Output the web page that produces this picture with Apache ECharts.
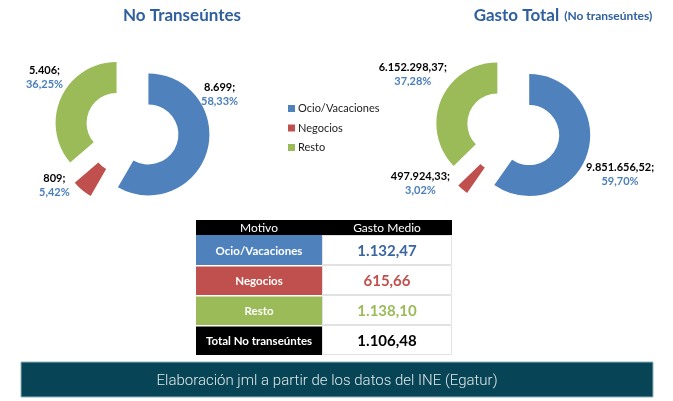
<!DOCTYPE html>
<html><head><meta charset="utf-8">
<script src="https://cdn.jsdelivr.net/npm/echarts@6/dist/echarts.min.js"></script>
<style>html,body{margin:0;padding:0;background:#fff}#c{width:673px;height:401px}</style>
</head><body><div id="c"></div>
<script>
const categories = ['Ocio/Vacaciones', 'Negocios', 'Resto'];
const visitantes = [8699, 809, 5406];
const gastoTotal = [9851656.52, 497924.33, 6152298.37];
const gastoMedio = [1132.47, 615.66, 1138.10];
const gastoMedioTotal = 1106.48;
const totalLabel = 'Total No transeúntes';
const colors = ['#4f81bd', '#c0504d', '#9bbb59'];

function fmt(v, dec) {
  const s = v.toFixed(dec);
  let [i, d] = s.split('.');
  i = i.replace(/\B(?=(\d{3})+(?!\d))/g, '.');
  return d ? i + ',' + d : i;
}

const FONT = 'Lato';
const chart = echarts.init(document.getElementById('c'), null, {renderer: 'canvas'});

// label nudges (pixels) per series / slice, relative to ECharts' outside placement
const labelShift = [
  [[-21, -58], [-1, -12], [16, -16]],
  [[-16, 18], [-1, -14], [20, -21]]
];

function pieSeries(vals, center, dec, si) {
  return {
    type: 'pie',
    center: center,
    radius: [30, 61],
    startAngle: 90,
    clockwise: true,
    selectedMode: 'multiple',
    selectedOffset: 17,
    avoidLabelOverlap: false,
    emphasis: {disabled: true},
    label: {
      show: true,
      position: 'outside',
      fontFamily: FONT,
      formatter: p => '{v|' + fmt(p.value, dec) + ';}\n{p|' + p.percent.toFixed(2).replace('.', ',') + '%}',
      rich: {
        v: {fontSize: 11, fontWeight: 'bold', color: '#000', fontFamily: FONT, lineHeight: 14, align: 'center'},
        p: {fontSize: 11, fontWeight: 'bold', color: '#4a7ebb', fontFamily: FONT, lineHeight: 14, align: 'center'}
      }
    },
    labelLine: {show: false, length: 10, length2: 0},
    labelLayout: p => ({dx: labelShift[si][p.dataIndex][0], dy: labelShift[si][p.dataIndex][1]}),
    data: categories.map((n, i) => ({name: n, value: vals[i], selected: true, itemStyle: {color: colors[i]}}))
  };
}

const graphics = [];
// table
const tx = 196, tw1 = 126, tw2 = 130, hy = 220, hh = 15, rh = 30;
graphics.push({type: 'rect', shape: {x: tx, y: hy, width: tw1 + tw2, height: hh}, style: {fill: '#000'}});
graphics.push({type: 'text', style: {text: 'Motivo', x: tx + tw1 / 2, y: hy + hh / 2 + 0.5, align: 'center', verticalAlign: 'middle', fill: '#fff', font: '12px ' + FONT}});
graphics.push({type: 'text', style: {text: 'Gasto Medio', x: tx + tw1 + tw2 / 2, y: hy + hh / 2 + 0.5, align: 'center', verticalAlign: 'middle', fill: '#fff', font: '12px ' + FONT}});
const rowNames = categories.concat([totalLabel]);
const rowVals = gastoMedio.concat([gastoMedioTotal]);
const rowColors = colors.concat(['#000']);
rowNames.forEach((n, i) => {
  const y = hy + hh + i * rh;
  graphics.push({type: 'rect', shape: {x: tx, y: y + (i ? 1.5 : 0), width: tw1, height: rh - (i ? 1.5 : 0)}, style: {fill: rowColors[i]}});
  graphics.push({type: 'rect', shape: {x: tx + tw1 + 0.5, y: y + 0.5, width: tw2 - 1, height: rh - 1}, style: {fill: '#fff', stroke: '#e2e2e2', lineWidth: 1}});
  graphics.push({type: 'text', style: {text: n, x: tx + tw1 / 2, y: y + rh / 2 + 1, align: 'center', verticalAlign: 'middle', fill: '#fff', font: 'bold 11.5px ' + FONT}});
  graphics.push({type: 'text', style: {text: fmt(rowVals[i], 2), x: tx + tw1 + tw2 / 2, y: y + rh / 2 + 1, align: 'center', verticalAlign: 'middle', fill: i === 3 ? '#000' : (i === 0 ? '#3a66a0' : rowColors[i]), font: 'bold 15px ' + FONT}});
});
// footer
graphics.push({type: 'rect', shape: {x: 21, y: 362, width: 632, height: 35}, style: {fill: '#074455', stroke: '#8fb4bf', lineWidth: 1}});
graphics.push({type: 'text', style: {text: 'Elaboración jml a partir de los datos del INE (Egatur)', x: 327, y: 381, align: 'center', verticalAlign: 'middle', fill: '#dfe8ea', font: '300 15px Roboto'}});

chart.setOption({
  animation: false,
  title: [
    {text: 'No Transeúntes', left: 177, top: 2, textAlign: 'center', textStyle: {fontFamily: FONT, fontSize: 17, fontWeight: 'bold', color: '#2f5f9e'}},
    {text: '{a|Gasto Total} {b|(No transeúntes)}', left: 558, top: 2, textAlign: 'center', textStyle: {rich: {a: {fontFamily: FONT, fontSize: 17, fontWeight: 'bold', color: '#2f5f9e'}, b: {fontFamily: FONT, fontSize: 12, fontWeight: 'bold', color: '#2f5f9e'}}}}
  ],
  legend: {
    orient: 'vertical', left: 283, top: 98, itemWidth: 7, itemHeight: 7, itemGap: 8.5,
    icon: 'rect', selectedMode: false,
    textStyle: {fontFamily: FONT, fontSize: 11, color: '#222', padding: [0, 0, 0, -2]},
    data: categories
  },
  series: [pieSeries(visitantes, [132, 130], 0, 0), pieSeries(gastoTotal, [513, 130], 2, 1)],
  graphic: graphics
});
</script></body></html>
